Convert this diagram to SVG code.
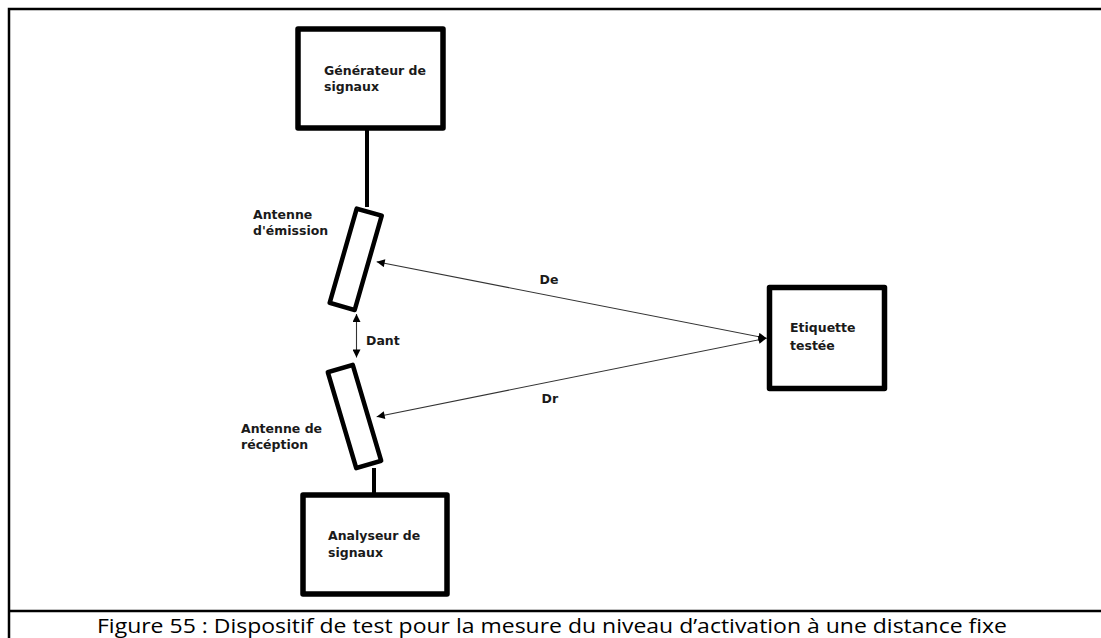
<svg xmlns="http://www.w3.org/2000/svg" width="1101" height="638" viewBox="0 0 1101 638">
<style>
.box{fill:#fff;stroke:#000;stroke-width:5.5;stroke-linejoin:round}
.ant{fill:#fff;stroke:#000;stroke-width:4.5;stroke-linejoin:round}
.wire{stroke:#000;stroke-width:4;fill:none}
.conn{stroke:#333;stroke-width:1.1;fill:none;marker-start:url(#ah);marker-end:url(#ah)}
.lbl{font-family:"DejaVu Sans",sans-serif;font-weight:bold;font-size:12.5px;fill:#1a1a1a}
.frame{stroke:#000;stroke-width:2.5;fill:none}
.cap{font-family:"Open Sans","Liberation Sans",sans-serif;font-size:20px;fill:#000}
</style>
<defs>
<marker id="ah" viewBox="0 0 10 10" refX="10" refY="5" markerWidth="10" markerHeight="8" markerUnits="userSpaceOnUse" orient="auto-start-reverse">
<path d="M0,0 L10,5 L0,10 z" fill="#000"/>
</marker>
</defs>
<rect width="1101" height="638" fill="#fff"/>
<g id="frame">
<path class="frame" d="M9,638 V9 H1101"/>
<path class="frame" d="M9,611 H1101"/>
</g>
<g id="connectors">
<line class="wire" x1="367" y1="129" x2="367" y2="207"/>
<line class="wire" x1="374" y1="468" x2="374" y2="494"/>
<line class="conn" x1="376.7" y1="261.7" x2="766.5" y2="338.3"/>
<line class="conn" x1="376.7" y1="416.7" x2="766.5" y2="338.3"/>
<line class="conn" x1="356.5" y1="314" x2="356.5" y2="357.5"/>
</g>
<g id="generateur">
<rect class="box" x="298" y="29" width="145" height="99"/>
<text class="lbl" x="324" y="74.5">Générateur de</text>
<text class="lbl" x="324" y="91">signaux</text>
</g>
<g id="antenne-emission">
<rect class="ant" x="-13" y="-49" width="26" height="98" transform="translate(355.7,259.3) rotate(16)"/>
<text class="lbl" x="253" y="218.5">Antenne</text>
<text class="lbl" x="253" y="235">d'émission</text>
</g>
<g id="antenne-reception">
<rect class="ant" x="-13" y="-50" width="26" height="100" transform="translate(354.5,416.5) rotate(-16.5)"/>
<text class="lbl" x="241" y="433.3">Antenne de</text>
<text class="lbl" x="241" y="449.3">récéption</text>
</g>
<g id="analyseur">
<rect class="box" x="303" y="495" width="144" height="99"/>
<text class="lbl" x="328" y="540">Analyseur de</text>
<text class="lbl" x="328" y="556.7">signaux</text>
</g>
<g id="etiquette">
<rect class="box" x="769.5" y="287.5" width="115" height="101"/>
<text class="lbl" x="790" y="332.3">Etiquette</text>
<text class="lbl" x="790" y="350">testée</text>
</g>
<g id="labels">
<text class="lbl" x="539.5" y="284">De</text>
<text class="lbl" x="541.5" y="403.3">Dr</text>
<text class="lbl" x="366" y="344.5">Dant</text>
</g>
<text class="cap" x="97" y="633" textLength="910" lengthAdjust="spacingAndGlyphs">Figure 55 : Dispositif de test pour la mesure du niveau d’activation à une distance fixe</text>
</svg>
